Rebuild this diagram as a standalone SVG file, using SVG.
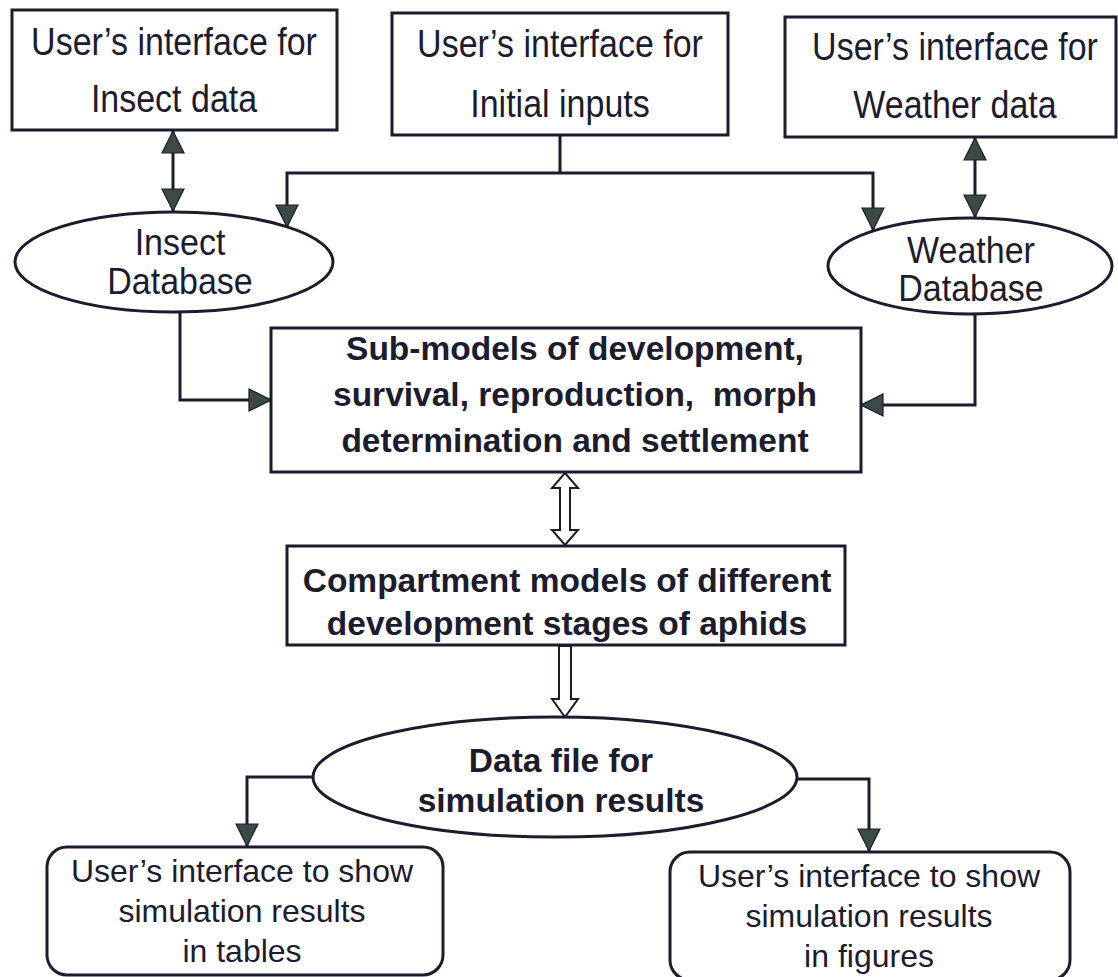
<svg xmlns="http://www.w3.org/2000/svg" width="1118" height="977" viewBox="0 0 1118 977">
<defs>
<marker id="ah" viewBox="0 0 24 24" refX="23" refY="12" markerWidth="24" markerHeight="24" markerUnits="userSpaceOnUse" orient="auto-start-reverse">
<path d="M1,1 L23,12 L1,23 Z" fill="#3b4a44" stroke="#1c1c2e" stroke-width="1.2"/>
</marker>
</defs>
<style>
.box{fill:#fff;stroke:#1c1c2e;stroke-width:3}
.t{font-family:"Liberation Sans",Arial,sans-serif;font-size:34px;fill:#1c1c2e;text-anchor:middle}
.s{font-size:32px}
.b{font-family:"Liberation Sans",Arial,sans-serif;font-size:33.5px;font-weight:bold;fill:#1c1c2e;text-anchor:middle}
.c{fill:none;stroke:#1c1c2e;stroke-width:3}
.o{fill:#fff;stroke:#1c1c2e;stroke-width:2}
</style>
<rect width="1118" height="977" fill="#fff"/>
<g id="connectors">
<path class="c" d="M173,131 L173,211" marker-start="url(#ah)" marker-end="url(#ah)"/>
<path class="c" d="M975,138 L975,217" marker-start="url(#ah)" marker-end="url(#ah)"/>
<path class="c" d="M560,135 L560,173"/>
<path class="c" d="M560,173 L287,173 L287,227" marker-end="url(#ah)"/>
<path class="c" d="M560,173 L873,173 L873,230" marker-end="url(#ah)"/>
<path class="c" d="M180,312 L180,400 L271,400" marker-end="url(#ah)"/>
<path class="c" d="M975,315 L975,405 L861,405" marker-end="url(#ah)"/>
<path class="o" d="M565,473 L578,488 L570,488 L570,530 L578,530 L565,545 L552,530 L560,530 L560,488 L552,488 Z"/>
<path class="o" d="M559,646 L571,646 L571,699 L578,699 L565,717 L552,699 L559,699 Z"/>
<path class="c" d="M313,777 L247,777 L247,846" marker-end="url(#ah)"/>
<path class="c" d="M797,779 L869,779 L869,851" marker-end="url(#ah)"/>
</g>
<g id="ui-insect">
<rect class="box" x="12" y="10" width="325" height="120"/>
<text class="t" transform="translate(174,55) scale(1,1.12)">User’s interface for</text>
<text class="t" transform="translate(174,112) scale(1,1.12)">Insect data</text>
</g>
<g id="ui-initial">
<rect class="box" x="392" y="13" width="336" height="122"/>
<text class="t" transform="translate(560,57) scale(1,1.12)">User’s interface for</text>
<text class="t" transform="translate(560,117) scale(1,1.12)">Initial inputs</text>
</g>
<g id="ui-weather">
<rect class="box" x="785" y="17" width="331" height="120"/>
<text class="t" transform="translate(955,60) scale(1,1.12)">User’s interface for</text>
<text class="t" transform="translate(955,118) scale(1,1.12)">Weather data</text>
</g>
<g id="insect-db">
<ellipse class="box" cx="174" cy="262" rx="159" ry="50"/>
<text class="t" transform="translate(180,255) scale(1,1.06)">Insect</text>
<text class="t" transform="translate(180,294) scale(1,1.06)">Database</text>
</g>
<g id="weather-db">
<ellipse class="box" cx="970" cy="266" rx="142" ry="48"/>
<text class="t" transform="translate(971,263) scale(1,1.06)">Weather</text>
<text class="t" transform="translate(971,301) scale(1,1.06)">Database</text>
</g>
<g id="sub-models">
<rect class="box" x="271" y="328" width="590" height="144"/>
<text class="b" x="575" y="360">Sub-models of development,</text>
<text class="b" x="575" y="406" xml:space="preserve">survival, reproduction,  morph</text>
<text class="b" x="575" y="452">determination and settlement</text>
</g>
<g id="compartment">
<rect class="box" x="287" y="546" width="558" height="99"/>
<text class="b" x="567" y="592">Compartment models of different</text>
<text class="b" x="567" y="635">development stages of aphids</text>
</g>
<g id="data-file">
<ellipse class="box" cx="555" cy="777" rx="242" ry="60"/>
<text class="b" x="561" y="772">Data file for</text>
<text class="b" x="561" y="812">simulation results</text>
</g>
<g id="ui-tables">
<rect class="box" x="47" y="847" width="396" height="128" rx="20" ry="20"/>
<text class="t s" x="242" y="882">User’s interface to show</text>
<text class="t s" x="242" y="922">simulation results</text>
<text class="t s" x="242" y="962">in tables</text>
</g>
<g id="ui-figures">
<rect class="box" x="670" y="852" width="400" height="128" rx="20" ry="20"/>
<text class="t s" x="869" y="887">User’s interface to show</text>
<text class="t s" x="869" y="927">simulation results</text>
<text class="t s" x="869" y="967">in figures</text>
</g>
</svg>
